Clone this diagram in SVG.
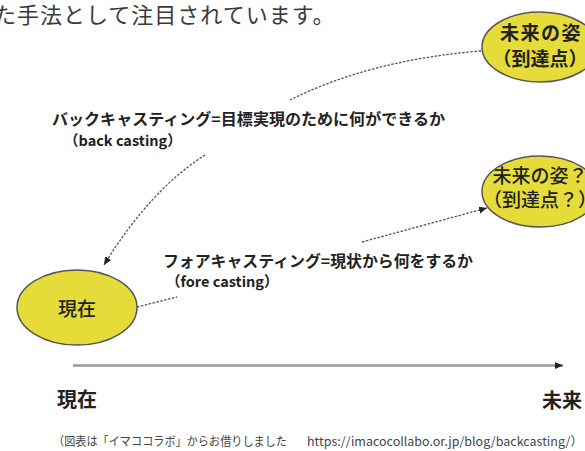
<svg xmlns="http://www.w3.org/2000/svg" width="585" height="451" viewBox="0 0 585 451">
<defs>
<marker id="ah" markerUnits="userSpaceOnUse" markerWidth="9" markerHeight="8" refX="8" refY="3.5" orient="auto">
<path d="M0,0 L8,3.5 L0,7 z" fill="#222"/>
</marker>
<marker id="axh" markerUnits="userSpaceOnUse" markerWidth="9" markerHeight="8" refX="8" refY="3.5" orient="auto">
<path d="M0,0 L8,3.5 L0,7 z" fill="#222"/>
</marker>
</defs>
<style>
text{font-family:"Noto Sans CJK JP","Noto Sans",sans-serif;}
.node ellipse{fill:#e5dc3a;stroke:#555;stroke-width:1.5;}
.nt{font-size:19px;fill:#222;text-anchor:middle;}
.lbl{font-size:15.5px;font-weight:700;fill:#222;}
.sub{font-size:14.5px;font-weight:700;fill:#222;}
.dot{fill:none;stroke:#555;stroke-width:1.3;stroke-dasharray:2.5 1.5;}
.axlbl{font-size:20px;font-weight:700;fill:#222;}
.cap{font-size:12px;fill:#444;}
</style>
<rect width="585" height="451" fill="#fff"/>
<text x="-6" y="23" font-size="22" letter-spacing="1" fill="#3a3a3a">た手法として注目されています。</text>

<g id="connectors">
<path class="dot" d="M481,51 Q370,60 290,100"/>
<path class="dot" d="M205,155 Q150,190 104,265" marker-end="url(#ah)"/>
<path class="dot" d="M137,307 L177,297"/>
<path class="dot" d="M362,242 L487,208" marker-end="url(#ah)"/>
<path d="M73,365.5 L563,365.5" fill="none" stroke="#999" stroke-width="2.5" marker-end="url(#axh)"/>
</g>

<g id="future1" class="node">
<ellipse cx="540" cy="47" rx="58" ry="35"/>
<text class="nt" x="541" y="40" font-weight="700" letter-spacing="1.5">未来の姿</text>
<text class="nt" x="540" y="66" font-weight="700">（到達点）</text>
</g>

<g id="future2" class="node">
<ellipse cx="540" cy="191.5" rx="58" ry="35.5"/>
<text class="nt" x="540" y="183" font-weight="500">未来の姿？</text>
<text class="nt" x="540" y="207" font-weight="500">（到達点？）</text>
</g>

<g id="present" class="node">
<ellipse cx="77" cy="307.5" rx="60" ry="37.5"/>
<text class="nt" x="77" y="316" font-weight="500" font-size="20">現在</text>
</g>

<g id="backcasting-label">
<text class="lbl" x="52" y="125" textLength="393" lengthAdjust="spacingAndGlyphs">バックキャスティング=目標実現のために何ができるか</text>
<text class="sub" x="64" y="146">（back casting）</text>
</g>

<g id="forecasting-label">
<text class="lbl" x="163" y="267" textLength="310" lengthAdjust="spacingAndGlyphs">フォアキャスティング=現状から何をするか</text>
<text class="sub" x="166" y="287">（fore casting）</text>
</g>

<g id="axis-labels">
<text class="axlbl" x="57" y="407">現在</text>
<text class="axlbl" x="542" y="408">未来</text>
</g>

<g id="caption">
<text class="cap" x="53" y="446" textLength="234" lengthAdjust="spacingAndGlyphs">（図表は「イマココラボ」からお借りしました</text>
<text class="cap" x="307" y="446" textLength="276" lengthAdjust="spacingAndGlyphs">https://imacocollabo.or.jp/blog/backcasting/）</text>
</g>
</svg>
